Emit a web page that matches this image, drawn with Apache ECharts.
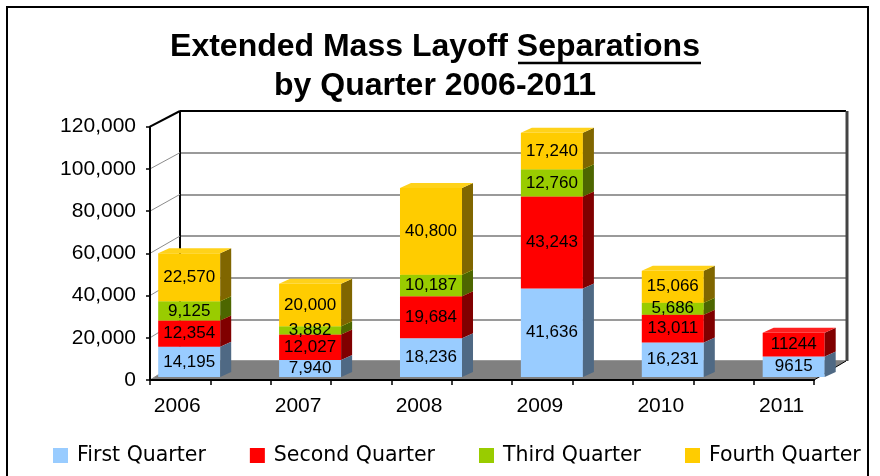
<!DOCTYPE html>
<html>
<head>
<meta charset="utf-8">
<script src="https://cdn.jsdelivr.net/npm/echarts@6/dist/echarts.min.js"></script>
<style>
  html, body { margin: 0; padding: 0; background: #fff; }
  #chart { width: 880px; height: 476px; }
</style>
</head>
<body>
<div id="chart"></div>
<script>
// datos
const years = ['2006', '2007', '2008', '2009', '2010', '2011']
const firstQuarter = [14195, 7940, 18236, 41636, 16231, 9615]
const secondQuarter = [12354, 12027, 19684, 43243, 13011, 11244]
const thirdQuarter = [9125, 3882, 10187, 12760, 5686, null]
const fourthQuarter = [22570, 20000, 40800, 17240, 15066, null]
const yTicks = [0, 20000, 40000, 60000, 80000, 100000, 120000]
const sinComas = ['2011'] // ese año las etiquetas van sin separador

const seriesNames = ['First Quarter', 'Second Quarter', 'Third Quarter', 'Fourth Quarter']
const frontColors = ['#99ccff', '#ff0000', '#99cc00', '#ffcc00']
const sideColors = ['#4f6984', '#800000', '#4d6600', '#806600']
const topColors = ['#b3d9ff', '#ff2020', '#a8d400', '#ffd21a']

const DX = 11
const DY = 5

const chart = echarts.init(document.getElementById('chart'))

// apila las series a mano para el renderItem
const quarters = [firstQuarter, secondQuarter, thirdQuarter, fourthQuarter]
const acumulado = years.map(() => 0)
const seriesData = quarters.map((vals) =>
  vals.map((v, i) => {
    const base = acumulado[i]
    if (v != null) acumulado[i] += v
    return [i, base, v == null ? NaN : v]
  })
)

function etiqueta(v, idx) {
  if (sinComas.includes(years[idx])) return String(v)
  return v.toLocaleString('en-US')
}

function makeRenderer(s) {
  return function (params, api) {
    const idx = api.value(0)
    const base = api.value(1)
    const val = api.value(2)
    if (isNaN(val)) return
    const p0 = api.coord([idx, base])
    const p1 = api.coord([idx, base + val])
    const w = api.size([1, 0])[0] * 0.513
    const left = p0[0] - w / 2
    const right = p0[0] + w / 2
    const bottom = p0[1]
    const top = p1[1]
    return {
      type: 'group',
      children: [
        {
          type: 'rect',
          shape: { x: left, y: top, width: w, height: bottom - top },
          style: { fill: frontColors[s] }
        },
        {
          type: 'polygon',
          shape: { points: [[right, bottom], [right + DX, bottom - DY], [right + DX, top - DY], [right, top]] },
          style: { fill: sideColors[s] }
        },
        {
          type: 'polygon',
          shape: { points: [[left, top], [left + DX, top - DY], [right + DX, top - DY], [right, top]] },
          style: { fill: topColors[s] }
        },
        {
          type: 'text',
          z2: 100,
          style: {
            text: etiqueta(val, idx),
            x: p0[0],
            y: (top + bottom) / 2,
            align: 'center',
            verticalAlign: 'middle',
            font: '17px "Liberation Sans"',
            fill: '#000'
          }
        }
      ]
    }
  }
}

const option = {
  animation: false,
  backgroundColor: '#fff',
  grid: [
    // plano frontal: ejes con etiquetas
    { left: 150, right: 66, top: 126.7, bottom: 96 },
    // barras
    { left: 128.75, right: 25.85, top: 121.8, bottom: 99 },
    // pared del fondo
    { left: 180, right: 34, top: 111, bottom: 115 }
  ],
  xAxis: [
    {
      gridIndex: 0, type: 'value', min: 0, max: 11, interval: 1, z: 3,
      axisLine: { show: true, lineStyle: { color: '#000', width: 2 } },
      axisTick: { show: true, length: 5, lineStyle: { color: '#000', width: 1.5 } },
      axisLabel: { show: false },
      splitLine: { show: false }
    },
    {
      gridIndex: 1, type: 'category', data: years,
      axisLine: { show: false },
      axisTick: { show: false },
      axisLabel: {
        margin: 19,
        padding: [0, 24, 0, 0],
        color: '#000',
        fontFamily: 'Liberation Sans',
        fontSize: 21
      }
    },
    {
      gridIndex: 2, type: 'value', min: 0, max: 11, show: false
    }
  ],
  yAxis: [
    {
      gridIndex: 0, type: 'value', min: 0, max: 120000, interval: 20000, z: 3,
      axisLine: { show: true, lineStyle: { color: '#000', width: 2 } },
      axisTick: { show: true, length: 4, lineStyle: { color: '#000', width: 1.5 } },
      axisLabel: {
        margin: 14,
        color: '#000',
        fontFamily: 'Liberation Sans',
        fontSize: 21,
        formatter: (v) => v.toLocaleString('en-US')
      },
      splitLine: { show: false }
    },
    { gridIndex: 1, type: 'value', min: 0, max: 120000, show: false },
    {
      gridIndex: 2, type: 'value', min: 0, max: 120000, interval: 20000,
      axisLine: { show: false },
      axisTick: { show: false },
      axisLabel: { show: false },
      splitLine: { show: true, lineStyle: { color: '#9a9a9a', width: 2 } }
    }
  ],
  legend: {
    left: 53,
    top: 445,
    padding: 0,
    icon: 'rect',
    itemWidth: 15,
    itemHeight: 15,
    itemGap: 44,
    textStyle: {
      color: '#000',
      fontFamily: 'DejaVu Sans',
      fontSize: 20.5,
      padding: [0, 0, 0, 4]
    },
    data: seriesNames
  },
  series: quarters.map((_, s) => ({
    name: seriesNames[s],
    type: 'custom',
    xAxisIndex: 1,
    yAxisIndex: 1,
    itemStyle: { color: frontColors[s] },
    encode: { x: 0, y: [1, 2] },
    renderItem: makeRenderer(s),
    data: seriesData[s]
  }))
}

chart.setOption(option)

// piezas 3D del marco, calculadas con las escalas de cada grid
const front = (p) => chart.convertToPixel({ gridIndex: 0 }, p)
const back = (p) => chart.convertToPixel({ gridIndex: 2 }, p)

const fl = front([0, 0])
const fr = front([11, 0])
const bl = back([0, 0])
const br = back([11, 0])
const btl = back([0, 120000])
const btr = back([11, 120000])

const graficos = [
  {
    type: 'rect', z: -1,
    shape: { x: 7, y: 7, width: 861, height: 500 },
    style: { fill: 'none', stroke: '#000', lineWidth: 2 }
  },
  {
    type: 'polygon', z: 1,
    shape: { points: [fl, fr, br, bl] },
    style: { fill: '#808080' }
  },
  {
    type: 'line', z: 1,
    shape: { x1: fr[0], y1: fr[1], x2: br[0], y2: br[1] },
    style: { stroke: '#000', lineWidth: 1 }
  },
  {
    type: 'line', z: 1,
    shape: { x1: bl[0], y1: bl[1], x2: btl[0], y2: btl[1] },
    style: { stroke: '#000', lineWidth: 2 }
  },
  {
    type: 'line', z: 1,
    shape: { x1: btl[0], y1: btl[1], x2: btr[0], y2: btr[1] },
    style: { stroke: '#000', lineWidth: 2 }
  },
  {
    type: 'line', z: 1,
    shape: { x1: btr[0] + 1, y1: btr[1], x2: br[0] + 1, y2: br[1] },
    style: { stroke: '#444', lineWidth: 3 }
  },
  {
    type: 'text',
    style: {
      text: 'Extended Mass Layoff Separations',
      x: 435, y: 47,
      align: 'center', verticalAlign: 'middle',
      font: 'bold 32px "Liberation Sans"', fill: '#000'
    }
  },
  {
    type: 'text',
    style: {
      text: 'by Quarter 2006-2011',
      x: 435, y: 86,
      align: 'center', verticalAlign: 'middle',
      font: 'bold 32px "Liberation Sans"', fill: '#000'
    }
  },
  {
    type: 'line',
    shape: { x1: 518, y1: 63, x2: 701, y2: 63 },
    style: { stroke: '#000', lineWidth: 2.5 }
  }
]

yTicks.forEach((v) => {
  const a = front([0, v])
  const b = back([0, v])
  const arriba = v === yTicks[yTicks.length - 1]
  graficos.push({
    type: 'line', z: 1,
    shape: { x1: a[0], y1: a[1], x2: b[0], y2: b[1] },
    style: { stroke: arriba ? '#000' : '#8c8c8c', lineWidth: arriba ? 2 : 1 }
  })
})

chart.setOption({ graphic: graficos })
</script>
</body>
</html>
